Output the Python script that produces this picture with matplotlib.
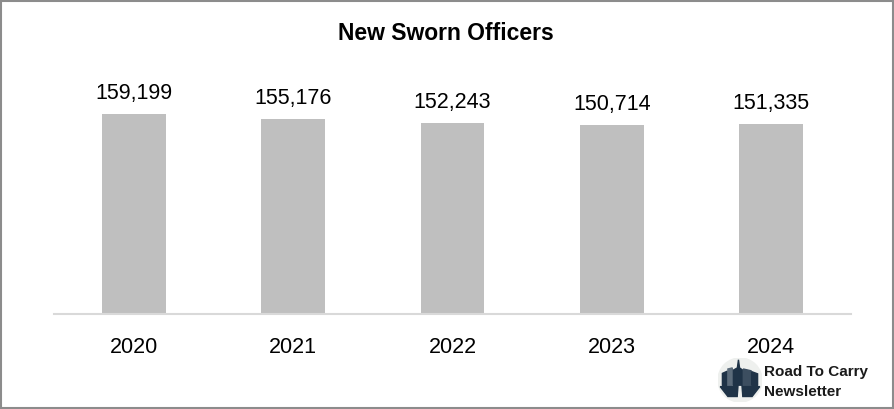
import matplotlib
matplotlib.use("Agg")
import matplotlib.pyplot as plt
from matplotlib.patches import Rectangle, Circle, Polygon

years = ["2020", "2021", "2022", "2023", "2024"]
officers = [159199, 155176, 152243, 150714, 151335]

plt.rcParams['font.family'] = ['Liberation Sans', 'DejaVu Sans']

W, H = 895, 410
fig = plt.figure(figsize=(W / 100, H / 100), dpi=100)

# plot area: baseline at y=315 px, x from 54 to 851 px
ax = fig.add_axes([54 / W, (H - 315) / H, (851 - 54) / W, 226 / H])
x = range(len(years))
ax.bar(x, officers, width=0.4, color="#bfbfbf", zorder=2)
ax.set_xlim(-0.5, len(years) - 0.5)
ax.set_ylim(0, 180000)
for xi, v in zip(x, officers):
    ax.annotate(f"{v:,}", (xi, v), xytext=(0, 8), textcoords="offset points",
                ha="center", va="bottom", fontsize=15.5, color="#000000")
for s in ["top", "right", "left"]:
    ax.spines[s].set_visible(False)
ax.spines["bottom"].set_color("#d9d9d9")
ax.spines["bottom"].set_linewidth(1.5)
ax.set_yticks([])
ax.set_xticks(list(x))
ax.set_xticklabels(years, fontsize=15.5)
ax.tick_params(axis="x", length=0, pad=16)

fig.text(446 / W, 1 - 33 / H, "New Sworn Officers", ha="center", va="center",
         fontsize=16.5, fontweight="bold")

# frame around the chart
fig.patches.append(Rectangle((1 / W, 1 / H), (W - 3) / W, (H - 3) / H,
                             transform=fig.transFigure, fill=False,
                             edgecolor="#8c8c8c", linewidth=1.5))

# logo
lax = fig.add_axes([718 / W, (H - 403) / H, 44 / W, 44 / H])
lax.set_xlim(-1, 1)
lax.set_ylim(-1, 1)
lax.set_aspect("equal")
lax.axis("off")
lax.add_patch(Circle((0, 0), 1, color="#eef0ee"))
navy = "#1f3347"
lax.add_patch(Polygon([[-0.8, -0.25], [-0.8, 0.3], [-0.58, 0.4], [-0.58, -0.25]], color=navy))
lax.add_patch(Polygon([[-0.55, -0.25], [-0.55, 0.5], [-0.35, 0.55], [-0.35, -0.25]], color="#5b6b7a"))
lax.add_patch(Polygon([[-0.3, -0.25], [-0.3, 0.45], [-0.12, 0.55], [-0.07, 0.92], [-0.02, 0.55], [0.12, 0.45], [0.12, -0.25]], color=navy))
lax.add_patch(Polygon([[0.15, -0.25], [0.15, 0.5], [0.5, 0.42], [0.5, -0.25]], color="#3c4e60"))
lax.add_patch(Polygon([[0.53, -0.25], [0.53, 0.38], [0.8, 0.28], [0.8, -0.25]], color=navy))
lax.add_patch(Polygon([[-0.9, -0.3], [0.9, -0.3], [0.55, -0.75], [-0.55, -0.75]], color=navy))
lax.add_patch(Polygon([[-0.03, -0.3], [0.03, -0.3], [0.07, -0.85], [-0.07, -0.85]], color="#eef0ee"))

fig.text(764 / W, 1 - 372 / H, "Road To Carry", ha="left", va="center",
         fontsize=11, fontweight="bold", color="#1a1a1a")
fig.text(764 / W, 1 - 392 / H, "Newsletter", ha="left", va="center",
         fontsize=11, fontweight="bold", color="#1a1a1a")

fig.savefig("out.png", dpi=100)
